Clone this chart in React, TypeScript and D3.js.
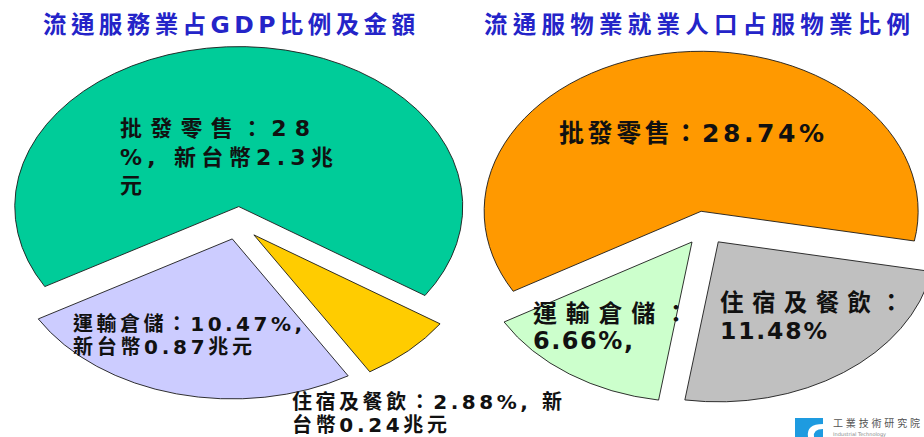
import React from "react";
import * as d3 from "d3";

// ---------- data ----------
const leftTitle = "流通服務業占GDP比例及金額";
const leftCategories = ["批發零售", "住宿及餐飲", "運輸倉儲"];
const leftValues = [28, 2.88, 10.47];
const leftColors = ["#00CC99", "#FFCC00", "#CCCCFF"];
const leftLabels = [
  ["批發零售：28", "%, 新台幣2.3兆", "元"],
  ["住宿及餐飲：2.88%, 新", "台幣0.24兆元"],
  ["運輸倉儲：10.47%,", "新台幣0.87兆元"],
];

const rightTitle = "流通服物業就業人口占服物業比例";
const rightCategories = ["批發零售", "住宿及餐飲", "運輸倉儲"];
const rightValues = [28.74, 11.48, 6.66];
const rightColors = ["#FF9900", "#C0C0C0", "#CCFFCC"];
const rightLabels = [
  ["批發零售：28.74%"],
  ["住宿及餐飲：", "11.48%"],
  ["運輸倉儲：", "6.66%,"],
];

// ---------- layout ----------
const FONT = "'DejaVu Sans', 'Noto Sans CJK TC', sans-serif";

const leftPie = { cx: 238, cy: 223, r: 224, ry: 160, explode: 23 };
const rightPie = { cx: 705, cy: 228, r: 217, ry: 160, explode: 23 };

const leftTitleLayout = { x: 43, y: 33, width: 372, size: 23.5 };
const rightTitleLayout = { x: 484, y: 33, width: 426, size: 23.5 };

const leftLabelLayout = [
  { x: 120, y: 136, size: 22, lh: 28.5, widths: [190, 213, 0] },
  { x: 292, y: 409, size: 20, lh: 23, widths: [270, 155] },
  { x: 73, y: 331, size: 20, lh: 23, widths: [229, 179] },
];
const rightLabelLayout = [
  { x: 559, y: 142, size: 25, lh: 27, widths: [265] },
  { x: 720, y: 311, size: 23.5, lh: 28, widths: [183, 107] },
  { x: 533, y: 322, size: 24, lh: 27, widths: [155, 100] },
];

type PieCfg = { cx: number; cy: number; r: number; ry: number; explode: number };

function Pie({ cfg, values, colors, cats }: { cfg: PieCfg; values: number[]; colors: string[]; cats: string[] }) {
  const pie = d3
    .pie<number>()
    .sort(null)
    .value((d) => d)
    .startAngle(-(2 * Math.PI) / 3)
    .endAngle((4 * Math.PI) / 3);
  const arc = d3.arc<d3.PieArcDatum<number>>().innerRadius(0).outerRadius(cfg.r);
  const arcs = pie(values);
  return (
    <g transform={`translate(${cfg.cx},${cfg.cy}) scale(1,${cfg.ry / cfg.r})`}>
      {arcs.map((a, i) => {
        const mid = (a.startAngle + a.endAngle) / 2;
        const dx = Math.sin(mid) * cfg.explode;
        const dy = -Math.cos(mid) * cfg.explode;
        return (
          <path
            key={cats[i]}
            transform={`translate(${dx},${dy})`}
            d={arc(a) || ""}
            fill={colors[i]}
            stroke="#1a1a1a"
            strokeWidth={0.9}
            vectorEffect="non-scaling-stroke"
          />
        );
      })}
    </g>
  );
}

function Labels({ labels, layout }: { labels: string[][]; layout: { x: number; y: number; size: number; lh: number; widths: number[] }[] }) {
  return (
    <g>
      {labels.map((lines, i) =>
        lines.map((line, j) => {
          const L = layout[i];
          const w = L.widths[j];
          return (
            <text
              key={`${i}-${j}`}
              x={L.x}
              y={L.y + j * L.lh}
              fontSize={L.size}
              fontWeight={700}
              fontFamily={FONT}
              fill="#111"
              {...(w ? { textLength: w, lengthAdjust: "spacing" } : {})}
            >
              {line}
            </text>
          );
        })
      )}
    </g>
  );
}

export default function App() {
  return (
    <svg
      width={924}
      height={437}
      style={{ position: "absolute", left: 0, top: 0, background: "#fff" }}
    >
      <rect x={0} y={0} width={924} height={437} fill="#ffffff" />
      <text
        x={leftTitleLayout.x}
        y={leftTitleLayout.y}
        fontSize={leftTitleLayout.size}
        fontWeight={700}
        fontFamily={FONT}
        fill="#2424C8"
        textLength={leftTitleLayout.width}
        lengthAdjust="spacing"
      >
        {leftTitle}
      </text>
      <text
        x={rightTitleLayout.x}
        y={rightTitleLayout.y}
        fontSize={rightTitleLayout.size}
        fontWeight={700}
        fontFamily={FONT}
        fill="#2424C8"
        textLength={rightTitleLayout.width}
        lengthAdjust="spacing"
      >
        {rightTitle}
      </text>

      <Pie cfg={leftPie} values={leftValues} colors={leftColors} cats={leftCategories} />
      <Pie cfg={rightPie} values={rightValues} colors={rightColors} cats={rightCategories} />

      <Labels labels={leftLabels} layout={leftLabelLayout} />
      <Labels labels={rightLabels} layout={rightLabelLayout} />

      {/* logo */}
      <g>
        <rect x={795} y={418} width={28} height={19} fill="#1E9BE0" />
        <path d="M 823 424 Q 806 424 808 437 L 814 437 Q 813 429 823 429 Z" fill="#ffffff" />
        <text x={833} y={427} fontSize={10} fontFamily={FONT} fill="#555" textLength={87} lengthAdjust="spacing">
          工業技術研究院
        </text>
        <text x={833} y={436} fontSize={5} fontFamily={FONT} fill="#888">
          Industrial Technology
        </text>
      </g>
    </svg>
  );
}
